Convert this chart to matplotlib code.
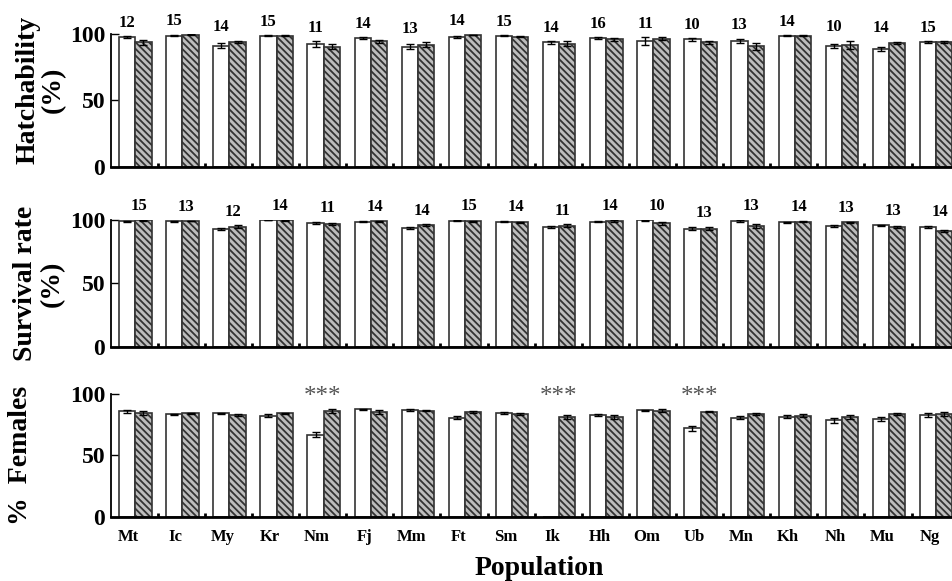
import numpy as np
import matplotlib
matplotlib.use("Agg")
import matplotlib.pyplot as plt

plt.rcParams["font.family"] = ["Liberation Serif", "DejaVu Serif"]
plt.rcParams["hatch.linewidth"] = 1.3
plt.rcParams["hatch.color"] = "#404040"

populations = ["Mt", "Ic", "My", "Kr", "Nm", "Fj", "Mm", "Ft", "Sm",
               "Ik", "Hh", "Om", "Ub", "Mn", "Kh", "Nh", "Mu", "Ng"]

# Hatchability (%)
hatch_white = [97.5, 98.7, 91.2, 98.7, 92.4, 97.0, 90.4, 97.7, 98.7,
               93.7, 97.0, 94.5, 96.0, 95.0, 98.7, 91.2, 88.4, 93.7]
hatch_white_err = [0.8, 0.4, 1.8, 0.4, 2.0, 0.8, 2.0, 1.0, 0.4,
                   1.0, 0.7, 3.0, 1.0, 1.5, 0.4, 1.5, 1.5, 0.7]
hatch_gray = [93.7, 99.5, 94.0, 98.7, 90.4, 94.5, 92.0, 99.2, 98.0,
              92.7, 96.0, 96.5, 93.7, 90.7, 98.7, 92.0, 93.2, 93.7]
hatch_gray_err = [2.0, 0.3, 1.0, 0.4, 2.0, 1.0, 2.0, 0.3, 0.4,
                  2.0, 1.0, 1.0, 1.0, 2.5, 0.3, 3.0, 1.0, 0.7]
hatch_n = [12, 15, 14, 15, 11, 14, 13, 14, 15, 14, 16, 11, 10, 13, 14, 10, 14, 15]

# Survival rate (%)
surv_white = [99.2, 98.9, 92.8, 100.0, 97.9, 98.7, 93.6, 99.5, 98.7,
              94.4, 98.7, 99.7, 93.3, 99.2, 98.4, 95.2, 96.0, 94.7]
surv_white_err = [0.4, 0.4, 0.7, 0.2, 0.8, 0.5, 1.0, 0.5, 0.4,
                  1.0, 0.5, 0.3, 1.5, 0.5, 0.4, 0.7, 0.4, 0.8]
surv_gray = [99.7, 99.2, 94.7, 99.7, 96.8, 99.2, 95.7, 98.9, 98.1,
             95.5, 99.2, 97.3, 93.3, 95.2, 98.7, 98.1, 94.7, 91.5]
surv_gray_err = [0.3, 0.3, 1.0, 0.3, 0.5, 0.4, 0.8, 0.5, 0.5,
                 1.0, 0.5, 1.0, 1.5, 1.5, 0.6, 0.5, 0.6, 0.8]
surv_n = [15, 13, 12, 14, 11, 14, 14, 15, 14, 11, 14, 10, 13, 13, 14, 13, 13, 14]

# % Females
fem_white = [86.1, 83.7, 84.5, 82.6, 66.8, 87.7, 87.2, 80.9, 84.5,
             0.0, 82.8, 86.9, 72.2, 80.9, 81.7, 78.7, 79.8, 82.8]
fem_white_err = [1.0, 0.5, 0.6, 1.5, 2.0, 0.5, 0.5, 1.0, 0.8,
                 0.0, 0.8, 0.5, 2.0, 1.5, 1.0, 2.0, 2.0, 1.5]
fem_gray = [84.7, 84.5, 83.4, 84.5, 86.1, 85.3, 86.6, 85.6, 83.9,
            81.7, 81.5, 86.6, 85.8, 83.9, 82.6, 81.7, 84.2, 83.7]
fem_gray_err = [1.5, 0.5, 0.8, 0.5, 1.5, 1.5, 0.5, 1.0, 1.0,
                1.5, 1.5, 1.0, 0.5, 1.0, 1.0, 1.5, 0.8, 1.5]
signif = ["", "", "", "", "***", "", "", "", "", "***", "", "", "***", "", "", "", "", ""]

x = np.arange(len(populations))
w = 0.345

fig = plt.figure(figsize=(9.53, 5.81), dpi=100)
left, width = 0.1162, 0.8838
ax1 = fig.add_axes([left, 0.7126, width, 0.2289])
ax2 = fig.add_axes([left, 0.4028, width, 0.2185])
ax3 = fig.add_axes([left, 0.1107, width, 0.2107])

panels = [
    (ax1, hatch_white, hatch_white_err, hatch_gray, hatch_gray_err, "Hatchability\n(%)", -0.053, 0.58),
    (ax2, surv_white, surv_white_err, surv_gray, surv_gray_err, "Survival rate\n(%)", -0.055, 0.5),
    (ax3, fem_white, fem_white_err, fem_gray, fem_gray_err, "%  Females", -0.092, 0.5),
]

ekw = dict(ecolor="black", elinewidth=1.0, capsize=3, capthick=1.0)
for ax, wv, we, gv, ge, lab, lx, ly in panels:
    we_plot = [e if v > 0 else np.nan for v, e in zip(wv, we)]
    ax.bar(x + 0.176, wv, w, align="edge", color="white", edgecolor="#333333",
           linewidth=1.2, yerr=we_plot, error_kw=ekw, zorder=2)
    ax.bar(x + 0.176 + w, gv, w, align="edge", color="#bdbdbd", edgecolor="#333333",
           linewidth=1.2, hatch="\\\\\\\\\\", yerr=ge, error_kw=ekw, zorder=2)
    ax.set_xlim(0, 17.88)
    ax.set_ylim(0, 100)
    ax.set_yticks([0, 50, 100])
    ax.set_xticks(np.arange(1, 18))
    ax.set_xticklabels([])
    for s in ["top", "right"]:
        ax.spines[s].set_visible(False)
    ax.spines["left"].set_linewidth(1.3)
    ax.spines["bottom"].set_linewidth(2.0)
    ax.tick_params(axis="y", direction="in", length=6, width=1.0,
                   labelsize=17, pad=4)
    ax.tick_params(axis="x", direction="in", length=3, width=2.0)
    for t in ax.get_yticklabels():
        t.set_fontweight("bold")
    ax.set_ylabel(lab, fontsize=20, fontweight="bold", linespacing=1.05)
    ax.yaxis.set_label_coords(lx, ly)

# sample sizes above bars
for i, n in enumerate(hatch_n):
    top = max(hatch_white[i] + hatch_white_err[i], hatch_gray[i] + hatch_gray_err[i])
    ax1.text(x[i] + 0.345, top + 10, str(n), ha="center", va="center",
             fontsize=12, fontweight="bold", clip_on=False)
for i, n in enumerate(surv_n):
    top = max(surv_white[i] + surv_white_err[i], surv_gray[i] + surv_gray_err[i])
    ax2.text(x[i] + 0.6, top + 11, str(n), ha="center", va="center",
             fontsize=12, fontweight="bold", clip_on=False)
for i, s in enumerate(signif):
    if s:
        ax3.text(x[i] + 0.5, 98, s, ha="center", va="center", fontsize=18,
                 color="#555555", clip_on=False)

# population labels
for i, p in enumerate(populations):
    ax3.text(x[i] + 0.38, -17, p, ha="center", va="center", fontsize=12,
             fontweight="bold", clip_on=False)
ax3.text(9.1, -42, "Population", ha="center", va="center", fontsize=20,
         fontweight="bold", clip_on=False)

fig.savefig("out.png", dpi=100)
